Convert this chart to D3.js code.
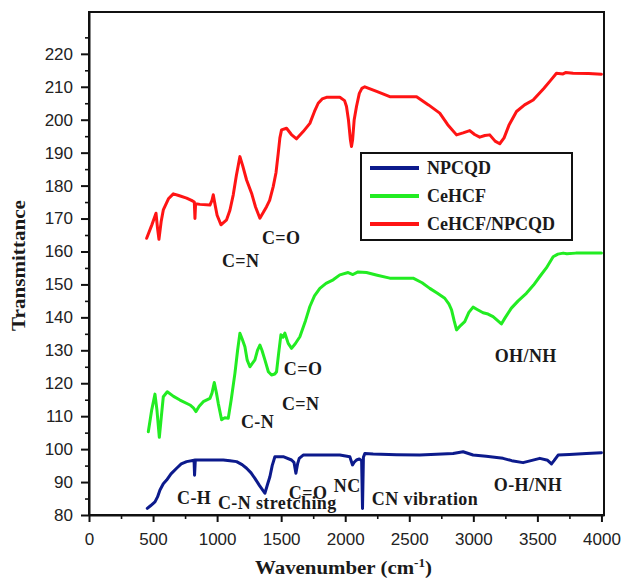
<!DOCTYPE html>
<html>
<head>
<meta charset="utf-8">
<script src="https://cdn.jsdelivr.net/npm/d3@7"></script>
<style>
  body { margin: 0; background: #fff; }
  svg { display: block; }
  .axis text { font-family: "Liberation Sans", Arial, sans-serif; font-size: 17px; fill: #222; }
  .axis path, .axis line { stroke: #111; stroke-width: 2; }
  .minor line { stroke-width: 1.6; }
  .title, .note, .legend text { font-family: "Liberation Serif", "Times New Roman", serif; font-weight: bold; fill: #1a1a1a; }
  .note { letter-spacing: 0.4px; }
  .line { fill: none; stroke-width: 3; stroke-linejoin: round; stroke-linecap: round; }
</style>
</head>
<body>
<svg width="623" height="579"></svg>
<script>
// tick values
const xTicks = [0, 500, 1000, 1500, 2000, 2500, 3000, 3500, 4000],
      xMinor = [250, 750, 1250, 1750, 2250, 2750, 3250, 3750],
      yTicks = [80, 90, 100, 110, 120, 130, 140, 150, 160, 170, 180, 190, 200, 210, 220],
      yMinor = [85, 95, 105, 115, 125, 135, 145, 155, 165, 175, 185, 195, 205, 215, 225]

// series: [wavenumber, transmittance]
const npcqd = [[455,82],[480,82.8],[515,84],[535,85.5],[554,87.6],[580,89.5],[606,90.6],[640,92.5],[684,94.2],[720,95.5],[762,96.2],[820,96.6],[824,92.1],[830,96.7],[918,96.7],[1048,96.7],[1100,96.5],[1152,96.2],[1195,95.3],[1230,94.2],[1265,92.8],[1295,91.1],[1330,89],[1373,86.6],[1395,89.5],[1412,91.6],[1430,95],[1451,97.7],[1516,97.7],[1581,96.7],[1600,96],[1615,92.7],[1628,95.5],[1641,97.2],[1672,98.2],[1828,98.2],[1958,98.2],[2036,97.7],[2057,95.2],[2070,96],[2088,96.7],[2110,97],[2128,96.5],[2135,82],[2142,97.5],[2153,98.7],[2218,98.5],[2400,98.3],[2582,98.2],[2842,98.7],[2920,99.2],[2998,98.2],[3100,97.8],[3232,97.2],[3300,96.5],[3388,95.9],[3450,96.5],[3519,97.2],[3580,96.6],[3610,95.5],[3630,96.5],[3662,98.2],[3750,98.4],[3883,98.7],[4000,98.9]]

const cehcf = [[463,105.3],[490,112],[515,116.7],[530,112],[549,103.6],[565,110],[580,115.9],[611,117.4],[660,116],[710,114.9],[788,113.4],[815,112.5],[835,111.4],[860,113],[892,114.4],[944,115.4],[960,117],[978,120.2],[995,117],[1009,113.9],[1035,108.9],[1060,109.5],[1087,109.4],[1110,115],[1139,123],[1160,130],[1178,135.2],[1195,133.5],[1217,131.1],[1235,127],[1256,125],[1275,126],[1295,127.1],[1315,130],[1334,131.6],[1350,130],[1373,127.1],[1400,123.5],[1425,122.5],[1450,122.8],[1464,123.5],[1480,129],[1498,134.7],[1515,134],[1529,135.2],[1555,132.1],[1581,130.6],[1610,132],[1646,134.1],[1690,139],[1724,143.3],[1760,146.5],[1802,148.8],[1850,150.3],[1906,151.4],[1958,152.9],[2023,153.6],[2060,153],[2100,153.8],[2166,153.6],[2250,152.8],[2348,151.9],[2530,151.9],[2600,150.5],[2660,148.8],[2720,147.3],[2777,145.8],[2810,144],[2830,142.3],[2850,139],[2869,136.2],[2900,137.5],[2933,138.7],[2965,141.5],[2998,143.1],[3030,142.4],[3076,141.4],[3115,141],[3154,140.2],[3190,139],[3219,138],[3250,140],[3297,142.8],[3350,145],[3414,147.3],[3470,149.8],[3519,152.4],[3570,155],[3623,158.4],[3660,159.2],[3701,159.5],[3730,159.3],[3800,159.5],[4000,159.5]]

const composite = [[450,164],[490,168],[523,171.6],[535,167],[546,163.7],[563,169],[580,172.6],[620,176],[658,177.5],[700,177],[762,176.2],[800,175.5],[822,175],[827,170],[832,174.5],[866,174.3],[944,174.1],[960,175.5],[970,177.2],[985,174],[1000,171],[1030,168.1],[1074,169.6],[1100,172.5],[1126,177.2],[1150,183],[1178,188.8],[1200,186],[1230,181.7],[1269,177.7],[1300,173.5],[1334,170.1],[1360,171.8],[1386,173.6],[1410,175.5],[1438,179.7],[1460,184],[1477,189.8],[1490,194.5],[1503,196.9],[1542,197.4],[1580,195.5],[1620,194.2],[1672,196.4],[1724,198.9],[1760,202.5],[1789,205],[1820,206.3],[1854,206.8],[1958,206.8],[1995,205.8],[2010,204],[2025,200],[2040,194],[2049,191.9],[2058,194],[2070,200],[2088,204],[2110,208],[2130,209.5],[2153,210],[2250,208.5],[2348,207],[2557,207],[2650,204.5],[2738,202],[2800,198.5],[2869,195.4],[2920,196],[2972,196.7],[3010,195.5],[3050,194.7],[3090,195.2],[3128,195.4],[3170,193.5],[3206,192.7],[3240,194.5],[3280,198.5],[3337,202.5],[3400,204.5],[3467,206],[3550,209.5],[3600,211.8],[3649,214.1],[3700,213.9],[3720,214.3],[3779,214.1],[3900,214],[4000,213.8]]

const seriesNames = ["NPCQD", "CeHCF", "CeHCF/NPCQD"],
      seriesColors = ["#0c1a8c", "#22ec22", "#ff1414"]

// band labels: [text, wavenumber, transmittance] (left edge, baseline)
const notes = [
  ["C=O", 1350, 162.3], ["C=N", 1038, 155.3],
  ["C=O", 1521, 122.5], ["C=N", 1506, 111.9], ["C-N", 1186, 106.4],
  ["OH/NH", 3167, 126.5],
  ["C-H", 687, 83.3], ["C=O", 1560, 84.8], ["C-N stretching", 1006, 81.8],
  ["NC", 1911, 86.9], ["CN vibration", 2208, 83], ["O-H/NH", 3160, 87.2]
]

const svg = d3.select("svg"),
      margin = {top: 12, right: 19, bottom: 64, left: 89},
      width = +svg.attr("width") - margin.left - margin.right,
      height = +svg.attr("height") - margin.top - margin.bottom

const x = d3.scaleLinear().domain([0, 4020]).range([margin.left, margin.left + width]),
      y = d3.scaleLinear().domain([80, 232.7]).range([margin.top + height, margin.top])

const line = d3.line()
              .x(d => x(d[0]))
              .y(d => y(d[1]))

// frame
svg.append("rect")
  .attr("x", margin.left)
  .attr("y", margin.top)
  .attr("width", width)
  .attr("height", height)
  .attr("fill", "none")
  .attr("stroke", "#111")
  .attr("stroke-width", 2)

// axes
svg.append("g")
  .attr("class", "axis minor")
  .attr("transform", "translate(0," + y(80) + ")")
  .call(d3.axisBottom(x).tickValues(xMinor).tickSize(4).tickFormat(""))
  .select(".domain").remove()

svg.append("g")
  .attr("class", "axis minor")
  .attr("transform", "translate(" + x(0) + ",0)")
  .call(d3.axisLeft(y).tickValues(yMinor).tickSize(4).tickFormat(""))
  .select(".domain").remove()

svg.append("g")
  .attr("class", "axis")
  .attr("transform", "translate(0," + y(80) + ")")
  .call(d3.axisBottom(x).tickValues(xTicks).tickFormat(d3.format("d")).tickSize(7).tickSizeOuter(0).tickPadding(11))

svg.append("g")
  .attr("class", "axis")
  .attr("transform", "translate(" + x(0) + ",0)")
  .call(d3.axisLeft(y).tickValues(yTicks).tickSize(8).tickSizeOuter(0).tickPadding(8))

// spectra
svg.selectAll(".line")
  .data([npcqd, cehcf, composite])
  .enter().append("path")
    .attr("class", "line")
    .attr("d", d => line(d))
    .style("stroke", (d, i) => seriesColors[i])

// band labels
svg.selectAll(".note")
  .data(notes)
  .enter().append("text")
    .attr("class", "note")
    .attr("x", d => x(d[1]))
    .attr("y", d => y(d[2]))
    .style("font-size", "18px")
    .text(d => d[0])

// legend
const legend = svg.append("g")
  .attr("class", "legend")
  .attr("transform", "translate(361,153)")

legend.append("rect")
  .attr("width", 211)
  .attr("height", 87)
  .attr("fill", "#fff")
  .attr("stroke", "#111")
  .attr("stroke-width", 2)

const items = legend.selectAll(".item")
  .data(seriesNames)
  .enter().append("g")
    .attr("class", "item")
    .attr("transform", (d, i) => "translate(0," + (15 + i * 28) + ")")

items.append("line")
  .attr("x1", 9).attr("x2", 58)
  .attr("stroke-width", 4)
  .attr("stroke", (d, i) => seriesColors[i])

items.append("text")
  .attr("x", 66)
  .attr("y", 6)
  .style("font-size", "18px")
  .text(d => d)

// axis titles
svg.append("text")
  .attr("class", "title")
  .attr("transform", "translate(25," + (margin.top + height / 2 + 2) + ") rotate(-90)")
  .attr("text-anchor", "middle")
  .attr("textLength", 131)
  .attr("lengthAdjust", "spacingAndGlyphs")
  .style("font-size", "18px")
  .text("Transmittance")

const xTitle = svg.append("text")
  .attr("class", "title")
  .attr("x", 255)
  .attr("y", 574)
  .attr("textLength", 177)
  .attr("lengthAdjust", "spacingAndGlyphs")
  .style("font-size", "19px")

xTitle.append("tspan").text("Wavenumber (cm")
xTitle.append("tspan").attr("dy", -7).style("font-size", "12px").text("-1")
xTitle.append("tspan").attr("dy", 7).text(")")
</script>
</body>
</html>
